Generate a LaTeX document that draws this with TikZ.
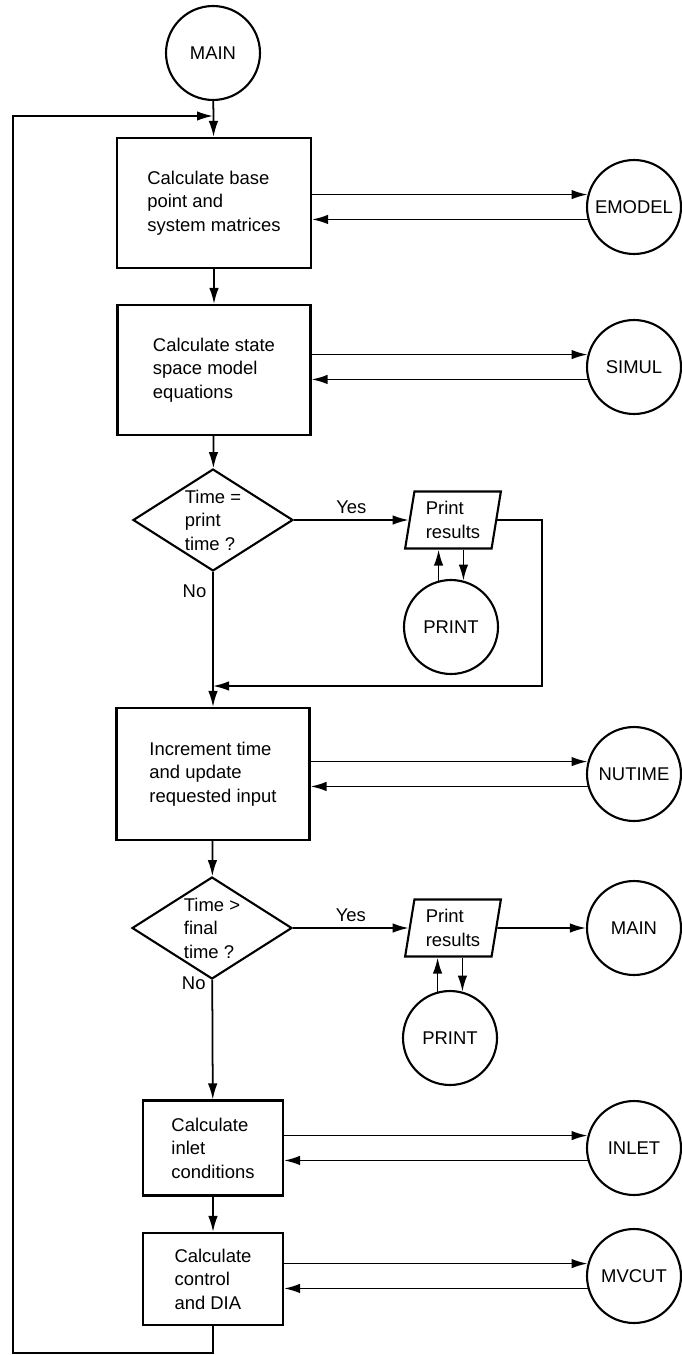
\documentclass[tikz,border=0pt]{standalone}
\usepackage{fontspec}
\setmainfont{Liberation Sans}
\usetikzlibrary{shapes.geometric,arrows.meta}

\begin{document}
\begin{tikzpicture}[
    x=0.02cm, y=-0.02cm,
    every node/.style={font=\fontsize{10.5}{13.4}\selectfont},
    >={Latex[length=3.2mm,width=1.9mm]},
    proc/.style={draw, rectangle, line width=1.2pt, align=left, inner sep=0pt},
    sub/.style={draw, circle, line width=1.2pt, minimum size=1.88cm, inner sep=0pt},
    dec/.style={draw, diamond, aspect=1.57, line width=1.2pt, minimum width=3.2cm, minimum height=2.04cm, inner sep=0pt, align=left},
    io/.style={draw, trapezium, trapezium left angle=80, trapezium right angle=100, trapezium stretches=true, line width=1.2pt, minimum width=1.92cm, minimum height=1.14cm, inner sep=0pt, align=left},
    flow/.style={->, line width=1pt}
]
    \useasboundingbox (0,0) rectangle (682,1355);

    % main line of the program
    \node[sub] (main) at (213,53) {MAIN};
    \node[proc, minimum width=3.88cm, minimum height=2.6cm] (calcBase) at (214,203) {Calculate base\\point and\\system matrices};
    \node[proc, minimum width=3.86cm, minimum height=2.6cm] (calcState) at (214,370) {Calculate state\\space model\\equations};
    \node[dec] (printTest) at (213,520) {Time =\\print\\time ?};
    \node[proc, minimum width=3.86cm, minimum height=2.64cm] (incTime) at (213,774) {Increment time\\and update\\requested input};
    \node[dec] (finalTest) at (212,928) {Time >\\final\\time ?};
    \node[proc, minimum width=2.8cm, minimum height=1.9cm] (inletCalc) at (213,1148) {Calculate\\inlet\\conditions};
    \node[proc, minimum width=2.8cm, minimum height=1.84cm] (ctrlCalc) at (213,1279) {Calculate\\control\\and DIA};

    % subroutines on the right
    \node[sub] (emodel) at (634,207) {EMODEL};
    \node[sub] (simul) at (634,367) {SIMUL};
    \node[sub] (nutime) at (634,774) {NUTIME};
    \node[sub] (mainEnd) at (634,928) {MAIN};
    \node[sub] (inlet) at (634,1148) {INLET};
    \node[sub] (mvcut) at (634,1276) {MVCUT};

    % print branches
    \node[io] (printOut) at (453,520) {Print\\results};
    \node[sub] (printA) at (451,627) {PRINT};
    \node[io] (finalOut) at (453,928) {Print\\results};
    \node[sub] (printB) at (450,1038) {PRINT};

    % free ends of the loops
    \coordinate (loopIn) at (213,116);
    \coordinate (loopCorner) at (13,1353);
    \coordinate (mergeA) at (213,686);

    % downward flow
    \draw[flow] (main) -- (calcBase);
    \draw[flow] (calcBase) -- (calcState);
    \draw[flow] (calcState) -- (printTest);
    \draw[flow] (printTest) -- node[pos=0.14,left]{No} (incTime);
    \draw[flow] (incTime) -- (finalTest);
    \draw[flow] (finalTest) -- node[pos=0.03,left]{No} (inletCalc);
    \draw[flow] (inletCalc) -- (ctrlCalc);
    \draw[flow] (ctrlCalc.south) |- (loopCorner) |- (loopIn);

    % yes branches
    \draw[flow] (printTest) -- node[above]{Yes} (printOut);
    \draw[flow] (printA.105) -- (printA.105 |- printOut.south);
    \draw[flow] (printOut.south -| printA.75) -- (printA.75);
    \draw[flow] (printOut.east) -- ++(45,0) |- (mergeA);
    \draw[flow] (finalTest) -- node[above]{Yes} (finalOut);
    \draw[flow] (printB.105) -- (printB.105 |- finalOut.south);
    \draw[flow] (finalOut.south -| printB.75) -- (printB.75);
    \draw[flow] (finalOut) -- (mainEnd);

    % calls and returns
    \draw[flow] (calcBase.east |- emodel.165) -- (emodel.165);
    \draw[flow] (emodel.195) -- (calcBase.east |- emodel.195);
    \draw[flow] (calcState.east |- simul.165) -- (simul.165);
    \draw[flow] (simul.195) -- (calcState.east |- simul.195);
    \draw[flow] (incTime.east |- nutime.165) -- (nutime.165);
    \draw[flow] (nutime.195) -- (incTime.east |- nutime.195);
    \draw[flow] (inletCalc.east |- inlet.165) -- (inlet.165);
    \draw[flow] (inlet.195) -- (inletCalc.east |- inlet.195);
    \draw[flow] (ctrlCalc.east |- mvcut.165) -- (mvcut.165);
    \draw[flow] (mvcut.195) -- (ctrlCalc.east |- mvcut.195);
\end{tikzpicture}
\end{document}
